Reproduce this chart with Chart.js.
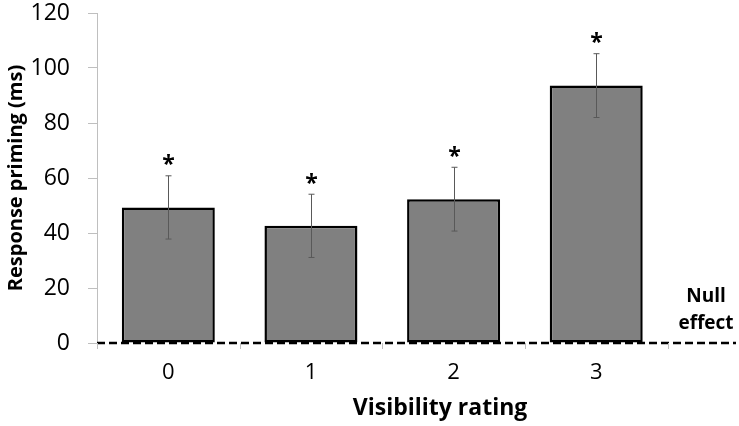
<!DOCTYPE html>
<html>
<head>
<meta charset="utf-8">
<script src="https://cdn.jsdelivr.net/npm/chart.js@4/dist/chart.umd.min.js"></script>
<style>
  html, body { margin: 0; padding: 0; background: #fff; }
  #wrap { width: 739px; height: 426px; }
</style>
</head>
<body>
<div id="wrap"><canvas id="chart"></canvas></div>
<script>
// values
const ratings = [0, 1, 2, 3];
const ratingLabels = ["0", "1", "2", "3"];
const priming = [49.3, 42.6, 52.3, 93.6];
const errors = [11.5, 11.5, 11.6, 11.6];
const significant = [true, true, true, true];
const yTicks = [0, 20, 40, 60, 80, 100, 120];
const nullLine = [-0.5, 3.98];
const xTitle = "Visibility rating";
const nullLabel = ["Null", "effect"];

const FONT = "'Open Sans', 'Liberation Sans', sans-serif";

// error bars, stars, boundary ticks and the free texts
const extras = {
    id: "extras",
    afterDatasetsDraw(chart) {
        const ctx = chart.ctx;
        const x = chart.scales.x;
        const y = chart.scales.y;
        ctx.save();

        ctx.strokeStyle = "#bfbfbf";
        ctx.lineWidth = 1;
        for (let i = 0; i <= ratings.length; i++) {
            const px = Math.round(x.getPixelForValue(ratings[0] - 0.5 + i)) + 0.5;
            ctx.beginPath();
            ctx.moveTo(px, y.bottom);
            ctx.lineTo(px, y.bottom + 6);
            ctx.stroke();
        }

        ctx.strokeStyle = "#595959";
        ctx.lineWidth = 1;
        ratings.forEach((r, i) => {
            const px = Math.round(x.getPixelForValue(r)) + 0.5;
            const top = y.getPixelForValue(priming[i] + errors[i]);
            const bot = y.getPixelForValue(priming[i] - errors[i]);
            ctx.beginPath();
            ctx.moveTo(px, top);
            ctx.lineTo(px, bot);
            ctx.moveTo(px - 3, top);
            ctx.lineTo(px + 3, top);
            ctx.moveTo(px - 3, bot);
            ctx.lineTo(px + 3, bot);
            ctx.stroke();

            if (significant[i]) {
                ctx.fillStyle = "#000";
                ctx.font = "bold 23px " + FONT;
                ctx.textAlign = "center";
                ctx.textBaseline = "middle";
                ctx.fillText("*", px, top - 10);
            }
        });

        ctx.fillStyle = "#000";
        ctx.textAlign = "center";
        ctx.font = "bold 19px " + FONT;
        ctx.textBaseline = "middle";
        ctx.fillText(nullLabel[0], 706, 297);
        ctx.fillText(nullLabel[1], 706, 324);

        ctx.font = "bold 23px " + FONT;
        ctx.textBaseline = "alphabetic";
        ctx.fillText(xTitle, 440, 415);
        ctx.restore();
    }
};

new Chart(document.getElementById("chart"), {
    data: {
        datasets: [{
            type: "bar",
            data: ratings.map((r, i) => ({ x: r, y: priming[i] })),
            backgroundColor: "#808080",
            borderColor: "#000",
            borderWidth: 2.5,
            borderSkipped: false,
            categoryPercentage: 1,
            barPercentage: 0.652,
            order: 2
        }, {
            type: "line",
            data: nullLine.map(v => ({ x: v, y: 0 })),
            borderColor: "#000",
            borderWidth: 2.5,
            borderDash: [8, 4],
            pointRadius: 0,
            clip: false,
            order: 1
        }]
    },
    options: {
        responsive: true,
        maintainAspectRatio: false,
        animation: false,
        layout: { padding: { top: 2, right: 3, left: 0, bottom: 0 } },
        plugins: {
            legend: { display: false },
            tooltip: { enabled: false }
        },
        scales: {
            x: {
                type: "linear",
                offset: false,
                min: nullLine[0],
                max: nullLine[1],
                afterBuildTicks: (scale) => {
                    scale.ticks = ratings.map(v => ({ value: v }));
                },
                afterFit: (scale) => { scale.height = 83; },
                grid: { display: false },
                border: { display: false },
                ticks: {
                    padding: 9,
                    color: "#000",
                    font: { family: FONT, size: 22 },
                    callback: (v) => ratingLabels[ratings.indexOf(v)]
                }
            },
            y: {
                min: 0,
                max: 120,
                afterBuildTicks: (scale) => {
                    scale.ticks = yTicks.map(v => ({ value: v }));
                },
                afterFit: (scale) => {
                    scale.width = 97;
                    scale.paddingTop = 13;
                    scale.paddingBottom = 0;
                },
                grid: {
                    drawOnChartArea: false,
                    color: "#bfbfbf",
                    tickLength: 9
                },
                border: { color: "#bfbfbf", width: 1 },
                ticks: {
                    padding: 18,
                    color: "#000",
                    font: { family: FONT, size: 23 }
                },
                title: {
                    display: true,
                    text: "Response priming (ms)",
                    color: "#000",
                    font: { family: FONT, size: 20, weight: "bold" },
                    padding: { top: 4, bottom: 0 }
                }
            }
        }
    },
    plugins: [extras]
});
</script>
</body>
</html>
